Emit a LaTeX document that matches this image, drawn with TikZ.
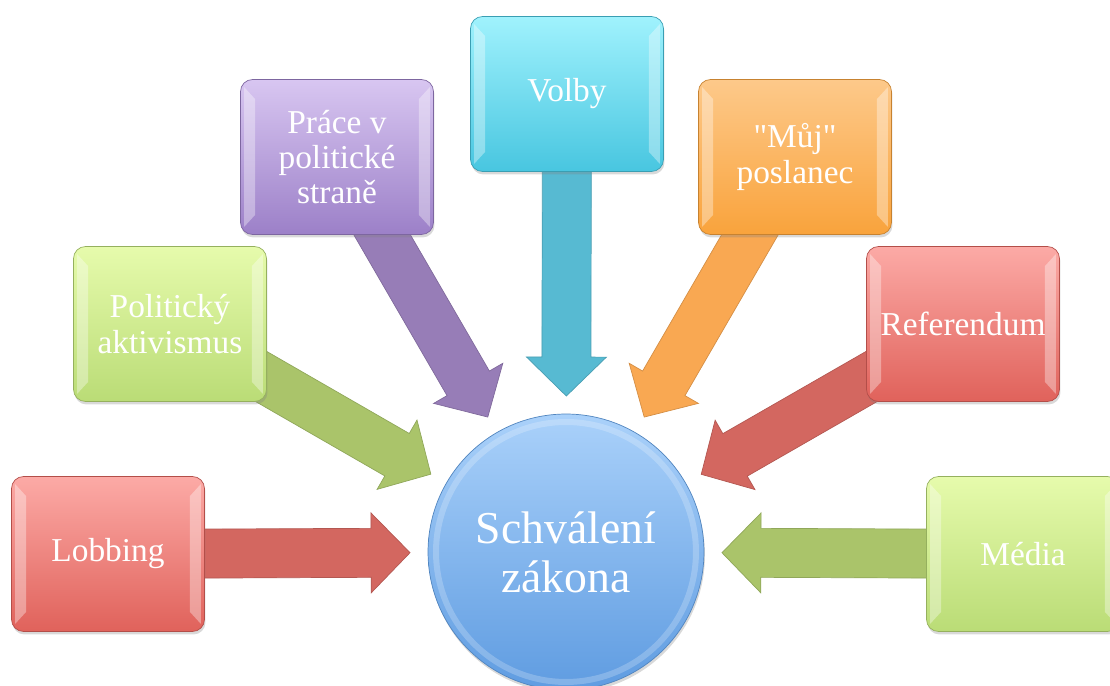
\documentclass[tikz,border=0pt]{standalone}
\usepackage{fontspec}
\setmainfont{Liberation Serif}
\usetikzlibrary{calc}
\usetikzlibrary{shadows}
\usetikzlibrary{backgrounds}

\definecolor{redTop}{HTML}{FCAAA6}
\definecolor{redBot}{HTML}{E0625B}
\definecolor{redArr}{HTML}{D36760}
\definecolor{greenTop}{HTML}{E6FBAC}
\definecolor{greenBot}{HTML}{BADC76}
\definecolor{greenArr}{HTML}{AAC46A}
\definecolor{purpleTop}{HTML}{D8C6F1}
\definecolor{purpleBot}{HTML}{9C80C8}
\definecolor{purpleArr}{HTML}{977DB7}
\definecolor{cyanTop}{HTML}{A0F2FD}
\definecolor{cyanBot}{HTML}{48C6E0}
\definecolor{cyanArr}{HTML}{57BAD2}
\definecolor{orangeTop}{HTML}{FDC98A}
\definecolor{orangeBot}{HTML}{F9A33C}
\definecolor{orangeArr}{HTML}{F9A852}
\definecolor{blueTop}{HTML}{AAD1FA}
\definecolor{blueBot}{HTML}{5F9CE1}

\tikzset{
    box/.style = {rectangle, rounded corners=0.24cm, minimum width=3.86cm, minimum height=3.1cm,
        inner sep=0pt, align=center, text=white, font=\fontsize{19}{20}\selectfont,
        draw=#1Bot!80!black, top color=#1Top, bottom color=#1Bot,
        drop shadow={opacity=0.3, shadow xshift=0.02cm, shadow yshift=-0.06cm}},
    law/.style = {circle, minimum size=5.52cm, inner sep=0pt, align=center, text=white,
        font=\fontsize{26}{28}\selectfont, draw=blueBot!85!black,
        top color=blueTop, bottom color=blueBot,
        drop shadow={opacity=0.3, shadow xshift=0.02cm, shadow yshift=-0.06cm}}
}

\begin{document}
\begin{tikzpicture}[x=0.02cm, y=0.02cm]
    \useasboundingbox (0,0) rectangle (1110,686);

    \node[law] (law) at (566,134) {Schválení\\zákona};
    \draw[white, opacity=.22, line width=0.12cm] (law.center) circle (2.6cm);

    \node[box=red] (lob) at (108,132) {Lobbing};
    \node[box=green] (akt) at (170,362) {Politický\\aktivismus};
    \node[box=purple] (str) at (337,529) {Práce v\\politické\\straně};
    \node[box=cyan] (vol) at (567,592) {Volby};
    \node[box=orange] (pos) at (795,529) {\textquotedbl Můj\textquotedbl\\poslanec};
    \node[box=red] (ref) at (963,362) {Referendum};
    \node[box=green] (med) at (1023,132) {Média};

    \foreach \b in {lob,akt,str,vol,pos,ref,med}{
        \fill[white, opacity=.35] ($(\b.north west)+(4,-8)$) -- ($(\b.north west)+(15,-20)$)
            -- ($(\b.south west)+(15,20)$) -- ($(\b.south west)+(4,8)$) -- cycle;
        \fill[white, opacity=.35] ($(\b.north east)+(-4,-8)$) -- ($(\b.north east)+(-15,-20)$)
            -- ($(\b.south east)+(-15,20)$) -- ($(\b.south east)+(-4,8)$) -- cycle;
    }

    \begin{pgfonlayer}{background}
    \foreach \b/\c in {lob/redArr, akt/greenArr, str/purpleArr, vol/cyanArr, pos/orangeArr, ref/redArr, med/greenArr}{
        \coordinate (tip) at ($(law)!3.12cm!(\b)$);
        \coordinate (base) at ($(tip)!0.78cm!(\b)$);
        \filldraw[fill=\c, draw=\c!85!black, line width=0.4pt]
            ($(\b)!0.49cm!90:(law)$) -- ($(base)!0.49cm!-90:(\b)$) -- ($(base)!0.8cm!-90:(\b)$)
            -- (tip) -- ($(base)!0.8cm!90:(\b)$) -- ($(base)!0.49cm!90:(\b)$)
            -- ($(\b)!0.49cm!-90:(law)$) -- cycle;
    }
    \end{pgfonlayer}
\end{tikzpicture}
\end{document}
